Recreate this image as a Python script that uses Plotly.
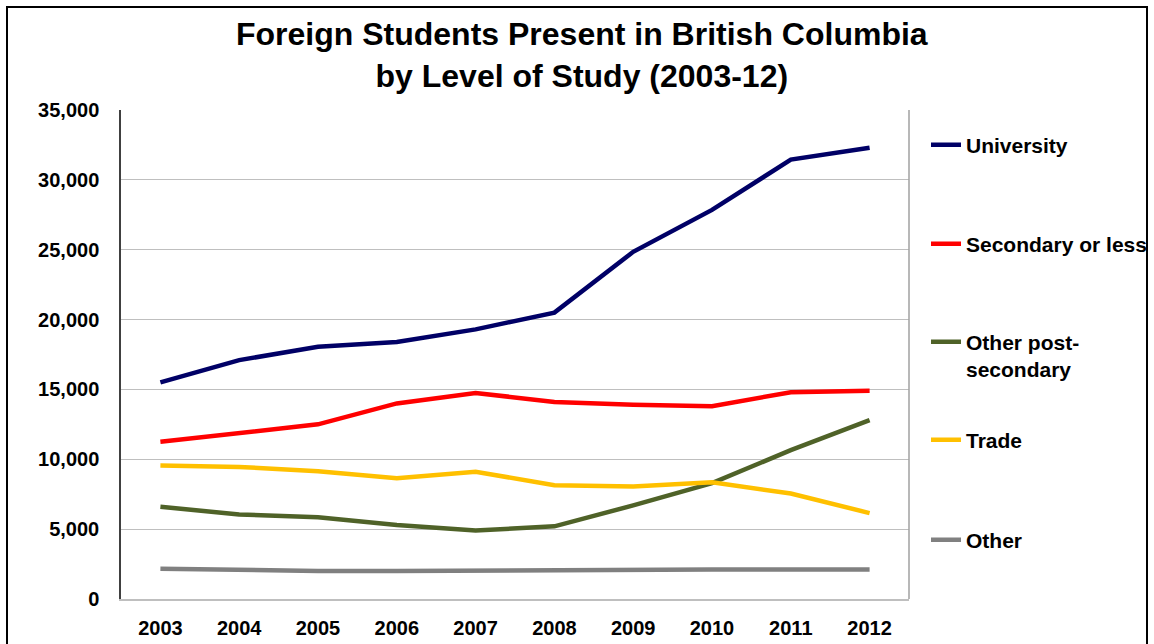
import plotly.graph_objects as go

years = ["2003", "2004", "2005", "2006", "2007", "2008", "2009", "2010", "2011", "2012"]
university = [15500, 17100, 18050, 18400, 19300, 20500, 24850, 27850, 31450, 32300]
secondary = [11250, 11900, 12500, 14000, 14750, 14100, 13900, 13800, 14800, 14900]
other_post = [6600, 6050, 5850, 5300, 4900, 5200, 6700, 8300, 10650, 12800]
trade = [9550, 9450, 9150, 8650, 9100, 8150, 8050, 8350, 7550, 6150]
other = [2170, 2050, 2000, 2000, 2040, 2110, 2080, 2110, 2120, 2120]

series_names = ["University", "Secondary or less", "Other post-<br>secondary", "Trade", "Other"]
series_values = [university, secondary, other_post, trade, other]
series_colors = ["#000066", "#FF0000", "#4F6228", "#FFC000", "#808080"]

title_text = "<b>Foreign Students Present in British Columbia<br>by Level of Study (2003-12)</b>"

W, H = 1154, 644
L, R, T, B = 121, 245, 110, 45
pw, ph = W - L - R, H - T - B

def px_x(x):
    return (x - L) / pw

def px_y(y):
    return (H - B - y) / ph

legend_centers = [145, 244, 355.5, 440, 540]
legend_keys = ["legend", "legend2", "legend3", "legend4", "legend5"]

FONT = "Liberation Sans, Arial, sans-serif"

fig = go.Figure()
for name, vals, col, lk in zip(series_names, series_values, series_colors, legend_keys):
    fig.add_trace(go.Scatter(
        x=years, y=vals, name=name, mode="lines",
        line=dict(color=col, width=4.5),
        legend=lk, hoverinfo="skip",
    ))

layout_legends = {}
for lk, yc in zip(legend_keys, legend_centers):
    layout_legends[lk] = dict(
        x=px_x(926), y=px_y(yc), xanchor="left", yanchor="middle",
        xref="paper", yref="paper",
        bgcolor="rgba(0,0,0,0)", borderwidth=0, valign="top",
        font=dict(family=FONT, size=21, color="#000000", weight="bold"),
        itemclick=False, itemdoubleclick=False,
    )

fig.update_layout(
    width=W, height=H,
    margin=dict(l=L, r=R, t=T, b=B, autoexpand=False),
    paper_bgcolor="white", plot_bgcolor="white",
    showlegend=True,
    xaxis=dict(
        type="category", range=[-0.5, 9.5],
        showgrid=False, showline=True, linecolor="#BFBFBF", linewidth=1.5,
        ticks="", ticklabelstandoff=10,
        tickfont=dict(family=FONT, size=20, color="#000000", weight="bold"),
        zeroline=False, fixedrange=True,
    ),
    yaxis=dict(
        range=[0, 35000], dtick=5000, tickformat=",",
        showgrid=True, gridcolor="#BFBFBF", gridwidth=1.2,
        showline=True, linecolor="#404040", linewidth=1.5,
        ticks="", ticklabelstandoff=16,
        tickfont=dict(family=FONT, size=20, color="#000000", weight="bold"),
        zeroline=False, fixedrange=True,
    ),
    annotations=[
        dict(text=title_text, xref="paper", yref="paper",
             x=px_x(582), y=px_y(14), xanchor="center", yanchor="top",
             showarrow=False, align="center",
             font=dict(family=FONT, size=32, color="#000000")),
    ],
    shapes=[
        dict(type="line", xref="paper", yref="paper", x0=1, x1=1, y0=0, y1=1,
             line=dict(color="#A0A0A0", width=1.5)),
        dict(type="rect", xref="paper", yref="paper",
             x0=px_x(7), x1=px_x(1147), y0=px_y(7), y1=px_y(670),
             line=dict(color="#000000", width=2), fillcolor="rgba(0,0,0,0)",
             layer="below"),
    ],
    **layout_legends,
)

fig.write_html("out.html")
